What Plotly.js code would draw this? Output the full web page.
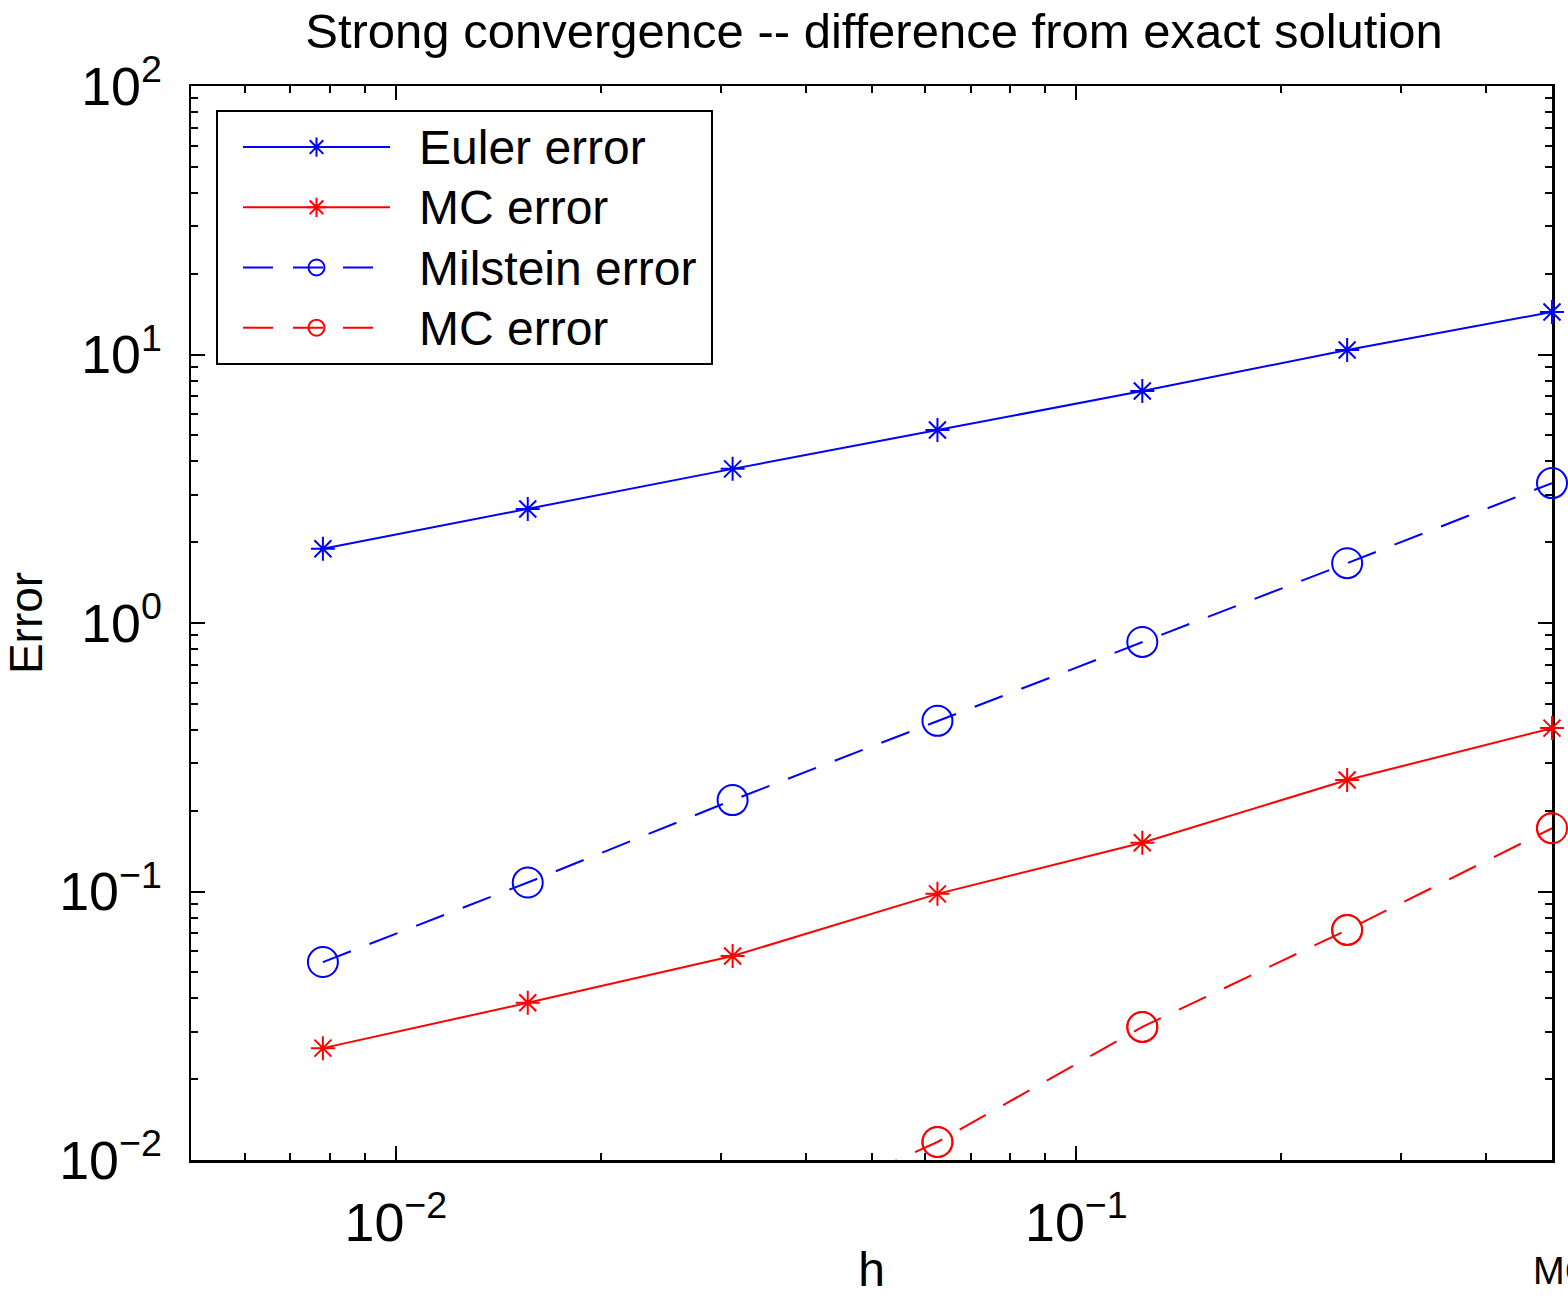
<!DOCTYPE html>
<html>
<head>
<meta charset="utf-8">
<script src="https://cdn.plot.ly/plotly-3.0.1.min.js"></script>
<style>
  html, body { margin: 0; padding: 0; background: #ffffff; }
  #chart { width: 1568px; height: 1296px; }
</style>
</head>
<body>
<div id="chart"></div>
<script>
// step sizes h
const h = [1/128, 1/64, 1/32, 1/16, 1/8, 1/4, 1/2];
// strong errors
const eulerError = [1.89, 2.66, 3.75, 5.23, 7.31, 10.4, 14.4];
const eulerMCError = [0.0261, 0.0385, 0.0575, 0.098, 0.152, 0.26, 0.406];
const milsteinError = [0.0546, 0.108, 0.219, 0.432, 0.85, 1.67, 3.32];
const milsteinMCError = [null, null, 0.0053, 0.01167, 0.0313, 0.0719, 0.172];
const seriesNames = ['Euler error', 'MC error', 'Milstein error', 'MC error'];
// tick label text for decades shown without exponent by default
const decadeLabels = {'1': '10<sup>0</sup>', '10': '10<sup>1</sup>'};

const FONT = 'Liberation Sans, Arial, Helvetica, sans-serif';
const BLUE = '#0000ff', RED = '#ff0000';
const xMin = 0.005, xMax = 0.5, yMin = 0.01, yMax = 100;
const EPS = 1e-6;

function inRange(ys) {
  return ys.map(v => (v !== null && v >= yMin && v <= yMax) ? v : null);
}
function legendName(s) {
  return '<span style="font-size:48px">\u2002' + s + '\u2009</span>';
}

const traces = [
  {x: h, y: eulerError, name: legendName(seriesNames[0]), mode: 'lines+markers', cliponaxis: false,
   line: {color: BLUE, width: 2}, marker: {symbol: 'asterisk-open', size: 20, color: BLUE, line: {color: BLUE, width: 2}}},
  {x: h, y: eulerMCError, name: legendName(seriesNames[1]), mode: 'lines+markers', cliponaxis: false,
   line: {color: RED, width: 2}, marker: {symbol: 'asterisk-open', size: 20, color: RED, line: {color: RED, width: 2}}},
  {x: h, y: milsteinError, name: legendName(seriesNames[2]), mode: 'lines+markers', cliponaxis: false,
   line: {color: BLUE, width: 2, dash: '30px,20px'}, marker: {symbol: 'circle-open', size: 30, color: BLUE, line: {color: BLUE, width: 2}}},
  {x: h, y: milsteinMCError, name: legendName(seriesNames[3]), mode: 'lines+markers', cliponaxis: true, connectgaps: false,
   line: {color: RED, width: 2, dash: '30px,20px'}, marker: {symbol: 'circle-open', size: 30, color: RED, line: {color: RED, width: 2}}},
  {x: h, y: inRange(milsteinMCError), name: seriesNames[3], mode: 'markers', cliponaxis: false, showlegend: false,
   marker: {symbol: 'circle-open', size: 30, color: RED, line: {color: RED, width: 2}}}
];

const axisCommon = {
  type: 'log',
  showgrid: false,
  zeroline: false,
  showline: true,
  linecolor: '#000',
  linewidth: 2.5,
  mirror: 'allticks',
  ticks: 'inside',
  ticklen: 14,
  tickwidth: 2,
  tickcolor: '#000',
  dtick: 1,
  exponentformat: 'power',
  showexponent: 'all',
  labelalias: decadeLabels,
  tickfont: {family: FONT, size: 43, color: '#000'},
  layer: 'below traces',
  minor: {ticks: 'inside', ticklen: 7, tickwidth: 2, tickcolor: '#000', dtick: 'D1', showgrid: false}
};

const layout = {
  width: 1568, height: 1296,
  paper_bgcolor: '#fff', plot_bgcolor: '#fff',
  margin: {l: 191, r: 16, t: 86, b: 136},
  font: {family: FONT, color: '#000'},
  title: {text: 'Strong convergence -- difference from exact solution', font: {family: FONT, size: 49, color: '#000'},
          x: 874 / 1568, xanchor: 'center', xref: 'container', y: 1 - 31 / 1296, yanchor: 'middle', yref: 'container'},
  xaxis: Object.assign({}, axisCommon, {
    range: [Math.log10(xMin) - EPS, Math.log10(xMax) + EPS],
    ticklabelstandoff: 16,
    title: {text: 'h', font: {family: FONT, size: 48, color: '#000'}, standoff: 10}
  }),
  yaxis: Object.assign({}, axisCommon, {
    range: [Math.log10(yMin) - EPS, Math.log10(yMax) + EPS],
    ticklabelstandoff: 18,
    title: {text: 'Error', font: {family: FONT, size: 46, color: '#000'}, standoff: 16}
  }),
  showlegend: true,
  legend: {
    x: (216 - 191) / 1361, y: (1160 - 110) / 1074, xanchor: 'left', yanchor: 'top',
    bgcolor: '#fff', bordercolor: '#000', borderwidth: 2,
    font: {family: FONT, size: 44, color: '#000'},
    itemwidth: 147, indentation: 20, tracegroupgap: 0
  },
  annotations: [
    {text: 'MC error', xref: 'paper', yref: 'paper', x: (1531 - 191) / 1361, y: (1160 - 1271) / 1074,
     xanchor: 'left', yanchor: 'middle', showarrow: false, font: {family: FONT, size: 38, color: '#000'}}
  ]
};

Plotly.newPlot('chart', traces, layout, {displayModeBar: false, staticPlot: true});
</script>
</body>
</html>
